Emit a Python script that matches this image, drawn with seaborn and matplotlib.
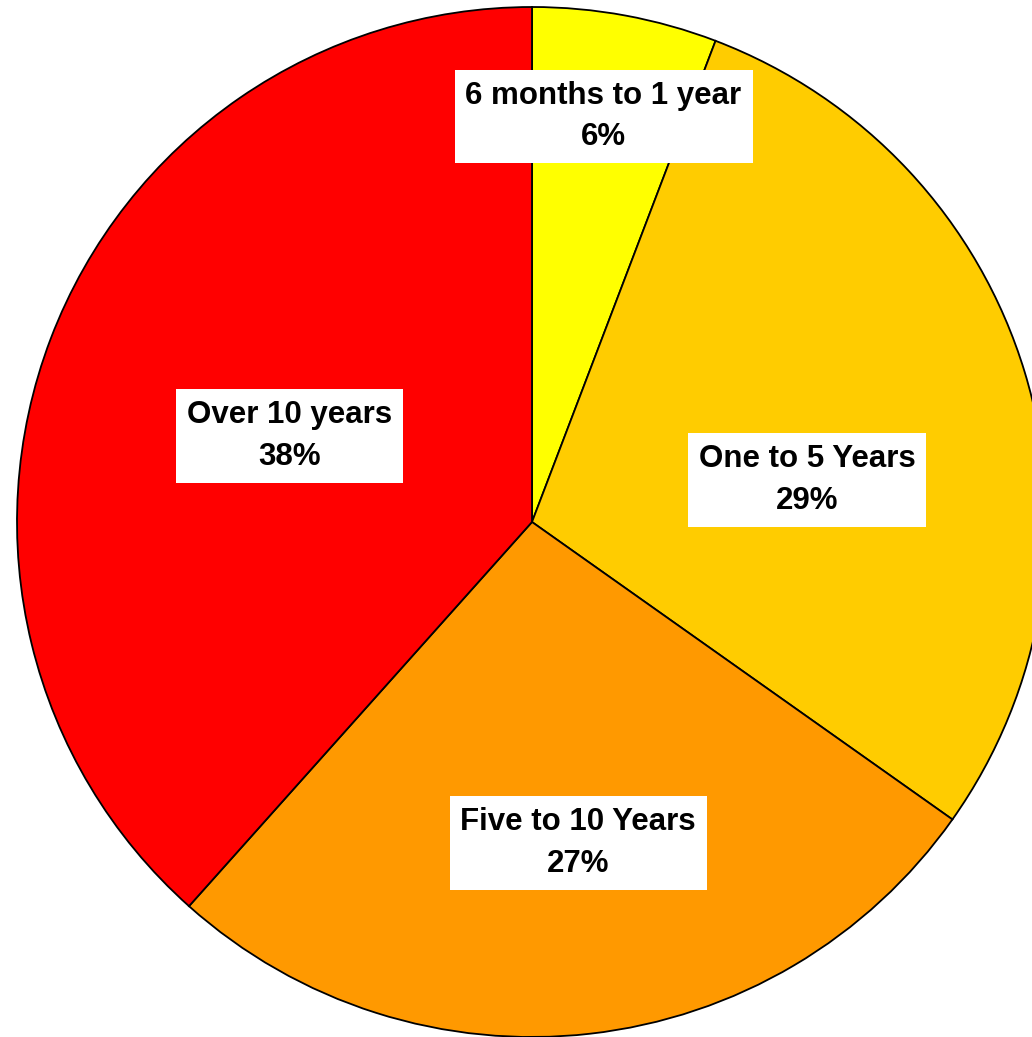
import numpy as np
import matplotlib.pyplot as plt
import seaborn as sns

# slice shares (clockwise from 12 o'clock) and their printed labels
categories = ["6 months to 1 year", "One to 5 Years", "Five to 10 Years", "Over 10 years"]
shares = [5.8, 29.0, 26.8, 38.4]
colors = ["#FFFF00", "#FFCC00", "#FF9900", "#FF0000"]

# label box centres, as (angle from 12 o'clock in degrees, radius fraction)
label_pos = [(10.0, 0.80), (81.3, 0.54), (171.8, 0.63), (289.5, 0.50)]

sns.set_theme(style="white")
plt.rcParams["font.family"] = ["Liberation Sans", "DejaVu Sans"]

W, H = 1032, 1037
cx, cy, R = 532, 522, 515

fig = plt.figure(figsize=(W / 100, H / 100), dpi=100)
ax = fig.add_axes([0, 0, 1, 1])

wedges, _ = ax.pie(
    shares,
    colors=colors,
    startangle=90,
    counterclock=False,
    radius=1.0,
    wedgeprops=dict(edgecolor="black", linewidth=1.3),
)

# pie() resets limits/aspect, so fix the view afterwards
ax.set_aspect("auto")
ax.set_xlim(-cx / R, (W - cx) / R)
ax.set_ylim(-(H - cy) / R, cy / R)
ax.axis("off")

for name, share, (ang, r) in zip(categories, shares, label_pos):
    th = np.deg2rad(90 - ang)
    ax.text(
        r * np.cos(th),
        r * np.sin(th),
        f"{name}\n{round(share):.0f}%",
        ha="center",
        va="center",
        fontsize=22.5,
        fontweight="bold",
        color="black",
        linespacing=1.5,
        bbox=dict(boxstyle="square,pad=0.35", facecolor="white", edgecolor="none"),
    )

fig.savefig("out.png", dpi=100, facecolor="white")
